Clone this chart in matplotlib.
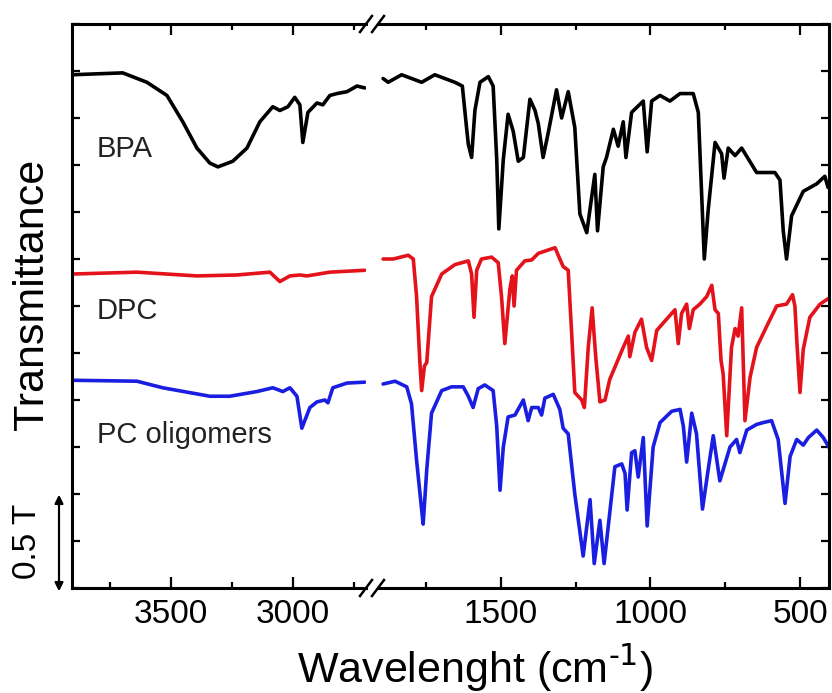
import numpy as np
import matplotlib.pyplot as plt
from matplotlib.lines import Line2D

plt.rcParams['font.family'] = ['Liberation Sans', 'DejaVu Sans']
plt.rcParams['mathtext.default'] = 'regular'

#-- Data (wavenumber in cm-1, transmittance with stacked offsets) ---------
# high-wavenumber part (left of the axis break)
bpa_hi_wn = [3905, 3697, 3598, 3516, 3451, 3393, 3340, 3307, 3246, 3188, 3135, 3082, 3053,
             3020, 2992, 2971, 2959, 2938, 2901, 2877, 2848, 2819, 2778, 2737, 2705]
bpa_hi_t = [2.73, 2.74, 2.69, 2.62, 2.48, 2.34, 2.26, 2.24, 2.27, 2.34, 2.48, 2.56, 2.54,
            2.56, 2.61, 2.57, 2.37, 2.53, 2.58, 2.57, 2.62, 2.63, 2.64, 2.67, 2.66]

dpc_hi_wn = [3905, 3639, 3393, 3229, 3094, 3053, 3012, 2971, 2942, 2848, 2705]
dpc_hi_t = [1.67, 1.68, 1.66, 1.665, 1.68, 1.63, 1.66, 1.665, 1.66, 1.68, 1.69]

pc_hi_wn = [3905, 3639, 3533, 3340, 3258, 3147, 3082, 3041, 3012, 2983, 2963, 2930, 2901,
            2869, 2856, 2836, 2778, 2705]
pc_hi_t = [1.105, 1.10, 1.065, 1.02, 1.02, 1.045, 1.065, 1.045, 1.065, 1.02, 0.85, 0.96, 0.99,
           1.0, 0.985, 1.065, 1.09, 1.095]

# fingerprint part (right of the axis break)
bpa_lo_wn = [1894, 1877, 1832, 1765, 1721, 1654, 1629, 1615, 1609, 1598, 1587, 1570, 1542,
             1526, 1514, 1507, 1492, 1476, 1459, 1442, 1425, 1403, 1386, 1375, 1359, 1342,
             1314, 1297, 1275, 1253, 1236, 1213, 1186, 1177, 1158, 1147, 1124, 1108, 1091,
             1082, 1063, 1024, 1011, 996, 968, 935, 901, 857, 840, 829, 820, 807, 784, 762,
             754, 740, 717, 695, 645, 584, 567, 556, 545, 528, 489, 444, 417, 406]
bpa_lo_t = [2.71, 2.69, 2.73, 2.69, 2.73, 2.69, 2.67, 2.45, 2.36, 2.29, 2.54, 2.69, 2.72,
            2.67, 2.28, 1.91, 2.28, 2.52, 2.43, 2.27, 2.29, 2.60, 2.54, 2.47, 2.29, 2.42,
            2.65, 2.50, 2.64, 2.45, 1.99, 1.89, 2.20, 1.90, 2.24, 2.29, 2.44, 2.35, 2.48,
            2.29, 2.53, 2.59, 2.32, 2.59, 2.62, 2.59, 2.63, 2.63, 2.53, 2.10, 1.75, 2.01,
            2.37, 2.31, 2.18, 2.34, 2.30, 2.34, 2.21, 2.21, 2.17, 1.90, 1.75, 1.98, 2.11,
            2.15, 2.19, 2.13]

dpc_lo_wn = [1894, 1860, 1810, 1793, 1782, 1771, 1765, 1756, 1748, 1732, 1698, 1654, 1609,
             1598, 1590, 1581, 1565, 1531, 1509, 1498, 1487, 1470, 1462, 1456, 1448, 1420,
             1397, 1375, 1319, 1303, 1292, 1275, 1264, 1253, 1230, 1221, 1208, 1195, 1183,
             1169, 1152, 1136, 1091, 1074, 1069, 1052, 1030, 1013, 996, 979, 946, 918, 907,
             896, 879, 870, 857, 835, 812, 795, 784, 773, 764, 757, 745, 729, 717, 707, 695,
             684, 667, 645, 612, 578, 545, 525, 517, 509, 500, 489, 467, 433, 405]
dpc_lo_t = [1.75, 1.75, 1.77, 1.75, 1.55, 1.20, 1.05, 1.18, 1.20, 1.55, 1.67, 1.72, 1.74,
            1.67, 1.44, 1.69, 1.75, 1.76, 1.73, 1.55, 1.30, 1.59, 1.66, 1.50, 1.69, 1.74,
            1.745, 1.78, 1.81, 1.75, 1.71, 1.69, 1.37, 1.04, 1.00, 0.96, 1.28, 1.49, 1.23,
            0.99, 1.00, 1.11, 1.28, 1.34, 1.23, 1.36, 1.43, 1.28, 1.21, 1.37, 1.43, 1.48, 1.30,
            1.46, 1.51, 1.38, 1.48, 1.51, 1.55, 1.61, 1.48, 1.46, 1.21, 1.14, 0.81, 1.28, 1.38,
            1.34, 1.49, 0.89, 1.12, 1.28, 1.39, 1.50, 1.51, 1.56, 1.50, 1.27, 1.04, 1.27, 1.44,
            1.51, 1.54]

pc_lo_wn = [1894, 1854, 1815, 1799, 1782, 1765, 1760, 1748, 1732, 1698, 1665, 1626, 1609,
            1593, 1576, 1554, 1526, 1514, 1503, 1492, 1476, 1453, 1425, 1409, 1397, 1375,
            1364, 1353, 1325, 1303, 1292, 1275, 1253, 1225, 1202, 1188, 1169, 1155, 1119,
            1096, 1085, 1078, 1063, 1052, 1041, 1024, 1011, 991, 968, 929, 901, 890, 879,
            862, 846, 826, 807, 790, 768, 734, 712, 701, 678, 645, 623, 595, 573, 550, 533,
            511, 489, 472, 444, 422, 400]
pc_lo_t = [1.085, 1.10, 1.07, 0.98, 0.68, 0.415, 0.34, 0.63, 0.93, 1.05, 1.07, 1.07, 1.02,
           0.96, 1.06, 1.08, 1.05, 0.86, 0.52, 0.75, 0.91, 0.92, 1.00, 0.89, 0.96, 0.96,
           0.92, 1.01, 1.03, 0.95, 0.85, 0.82, 0.50, 0.17, 0.47, 0.13, 0.36, 0.13, 0.645,
           0.66, 0.61, 0.415, 0.72, 0.73, 0.59, 0.80, 0.33, 0.75, 0.88, 0.94, 0.95, 0.86, 0.67,
           0.93, 0.82, 0.42, 0.63, 0.81, 0.57, 0.75, 0.79, 0.72, 0.84, 0.87, 0.88, 0.89, 0.79,
           0.45, 0.70, 0.79, 0.76, 0.80, 0.84, 0.80, 0.74]

labels = ['BPA', 'DPC', 'PC oligomers']
label_y = [2.29, 1.43, 0.77]
colors = ['black', '#e4121b', '#1a1ee0']

#-- Plot ----------------------------------------------------------------
W, H = 832, 693
fig = plt.figure(figsize=(W / 100, H / 100), dpi=100)
ax1 = fig.add_axes([72 / W, 105 / H, (366 - 72) / W, 564 / H])
ax2 = fig.add_axes([378 / W, 105 / H, (829 - 378) / W, 564 / H])

hi = [(bpa_hi_wn, bpa_hi_t), (dpc_hi_wn, dpc_hi_t), (pc_hi_wn, pc_hi_t)]
lo = [(bpa_lo_wn, bpa_lo_t), (dpc_lo_wn, dpc_lo_t), (pc_lo_wn, pc_lo_t)]
for (x, y), c in zip(hi, colors):
    ax1.plot(x, y, color=c, lw=2.6, solid_joinstyle='round', solid_capstyle='round')
for (x, y), c in zip(lo, colors):
    ax2.plot(x, y, color=c, lw=2.6, solid_joinstyle='round', solid_capstyle='round')

ax1.set_xlim(3905, 2700)
ax2.set_xlim(1911, 403)
for ax in (ax1, ax2):
    ax.set_ylim(0, 3)
    ax.set_yticks(np.arange(0, 3.01, 0.25))
    ax.tick_params(axis='both', which='both', direction='in', width=1.6)
    ax.tick_params(axis='x', which='major', length=8, labelsize=24, pad=8,
                   top=True, bottom=True)
    ax.tick_params(axis='x', which='minor', length=4, top=True, bottom=True)
    ax.tick_params(axis='y', length=6, labelleft=False, labelright=False)
    for s in ax.spines.values():
        s.set_linewidth(2.2)

ax1.set_xticks([3500, 3000])
ax1.set_xticks([3750, 3250, 2750], minor=True)
ax2.set_xticks([1500, 1000, 500])
ax2.set_xticks([1750, 1250, 750], minor=True)
ax1.spines['right'].set_visible(False)
ax2.spines['left'].set_visible(False)
ax1.tick_params(axis='y', left=True, right=False)
ax2.tick_params(axis='y', left=False, right=True)

for lab, yy in zip(labels, label_y):
    ax1.text(3803, yy, lab, fontsize=21, color='#222222', va='baseline')

# break marks
for xp in (366, 378):
    for yp in (24, 588):
        fig.add_artist(Line2D([(xp - 6) / W, (xp + 6) / W],
                              [1 - (yp + 8) / H, 1 - (yp - 8) / H],
                              transform=fig.transFigure, color='black', lw=1.8))

# scale arrow
fig.add_artist(plt.annotate('', xy=(59 / W, 1 - 495 / H), xytext=(59 / W, 1 - 591 / H),
                            xycoords='figure fraction', textcoords='figure fraction',
                            arrowprops=dict(arrowstyle='<|-|>', color='black', lw=1.5,
                                            mutation_scale=12, shrinkA=0, shrinkB=0)))
fig.text(28 / W, 1 - 541 / H, '0.5 T', rotation=90, ha='center', va='center', fontsize=24)
fig.text(32 / W, 1 - 294 / H, 'Transmittance', rotation=90, ha='center', va='center',
         fontsize=31)
fig.text(475 / W, 1 - 668 / H, 'Wavelenght (cm$^{\\text{-1}}$)', ha='center', va='center',
         fontsize=31)

fig.savefig('out.png', dpi=100)
